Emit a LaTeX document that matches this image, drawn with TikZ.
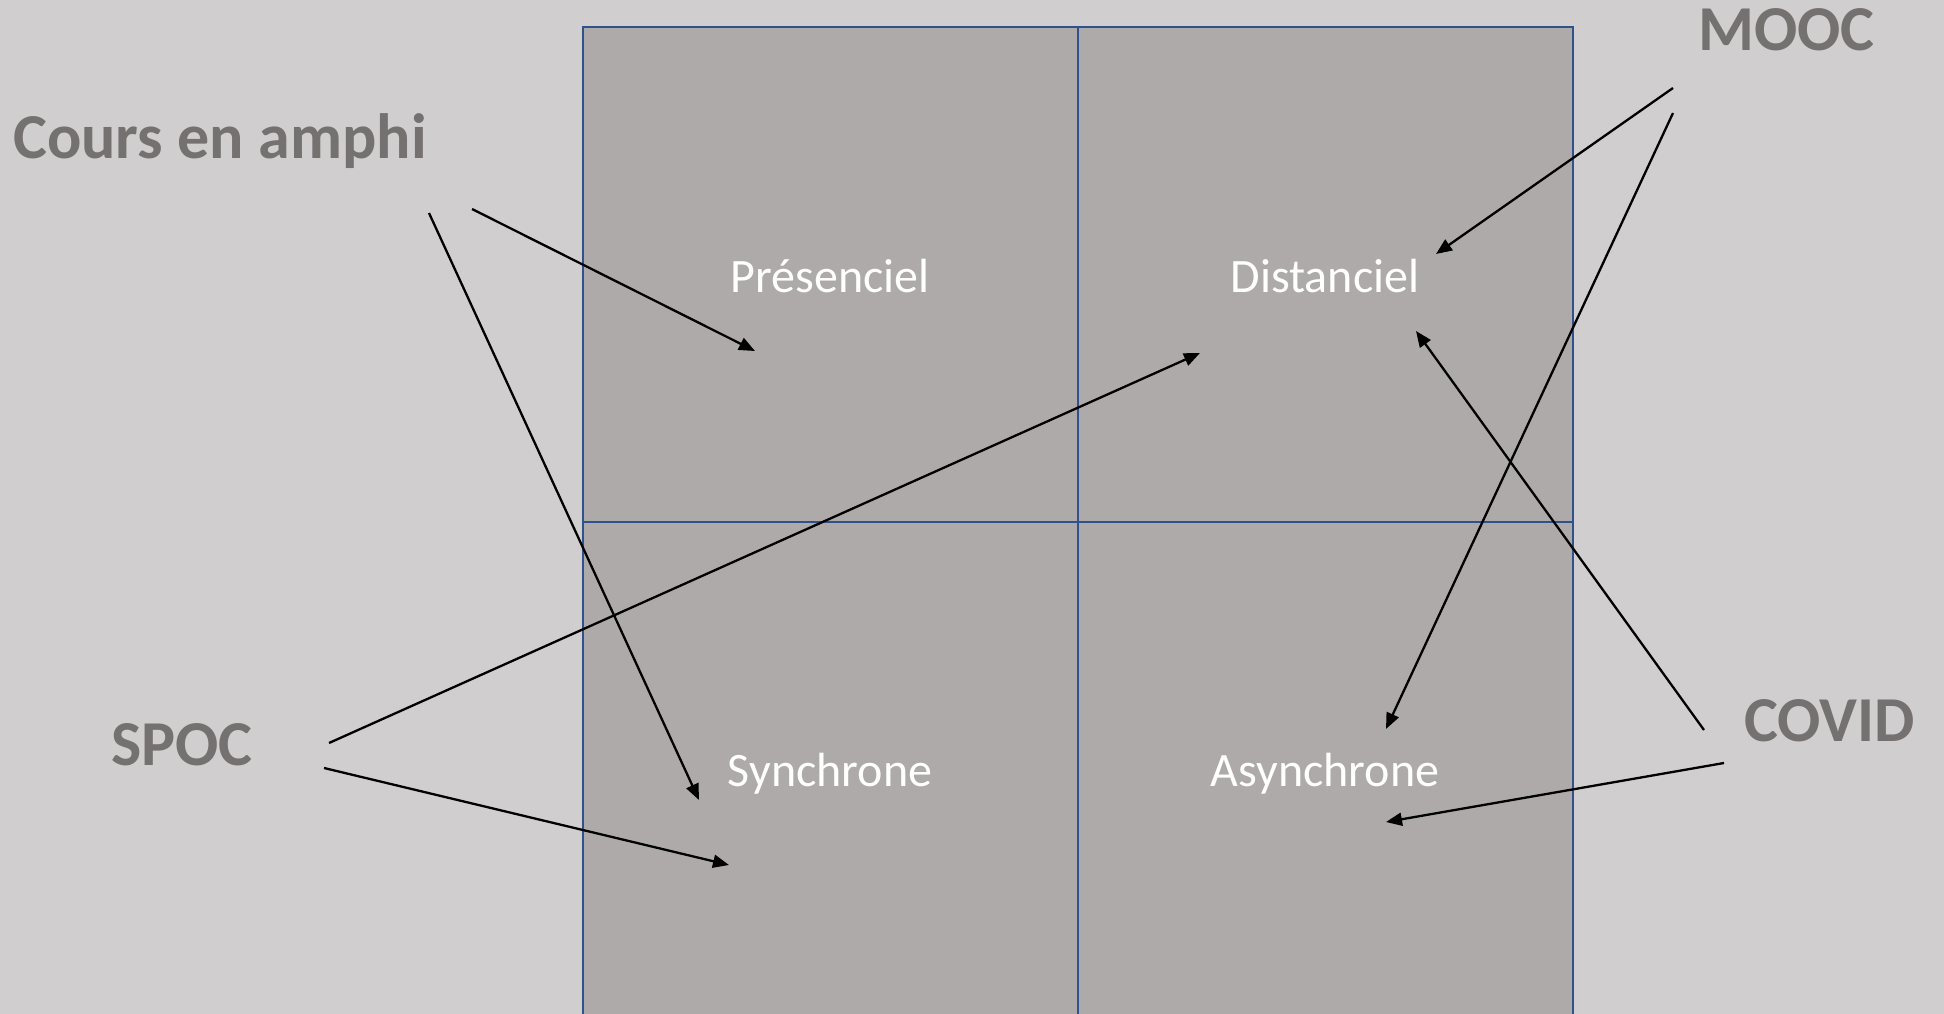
\documentclass[tikz,border=0pt]{standalone}
\usepackage{fontspec}
\setmainfont{Carlito}
\usetikzlibrary{arrows.meta}
\definecolor{bgpage}{HTML}{D0CECE}
\definecolor{cellfill}{HTML}{AEAAAA}
\definecolor{gridblue}{HTML}{2F528F}
\definecolor{labelgray}{HTML}{767171}
\tikzset{
  biglabel/.style={font=\fontsize{64}{64}\selectfont\bfseries, text=labelgray, inner sep=0pt},
  celllabel/.style={font=\fontsize{48}{48}\selectfont, text=white, inner sep=0pt},
  gridline/.style={draw=gridblue, line width=2pt},
  pointer/.style={draw=black, line width=2.3pt, -{Triangle[length=16pt,width=13pt]}},
}
\begin{document}
\begin{tikzpicture}[x=1pt,y=-1pt]
  % page background and fixed bounds
  \fill[bgpage] (0,0) rectangle (1944,1014);
  \useasboundingbox (0,0) rectangle (1944,1014);

  % the 2x2 grid of modes
  \begin{scope}
    \clip (0,0) rectangle (1944,1014);
    \fill[cellfill] (583,27) rectangle (1573,1030);
    \draw[gridline] (583,1030) -- (583,27) -- (1573,27) -- (1573,1030);
    \draw[gridline] (1078,27) -- (1078,1030);
    \draw[gridline] (583,522) -- (1573,522);
  \end{scope}

  % cell labels
  \node[celllabel, anchor=base] (pres)  at (830,292)  {Présenciel};
  \node[celllabel, anchor=base] (dist)  at (1325,292) {Distanciel};
  \node[celllabel, anchor=base] (sync)  at (830,786)  {Synchrone};
  \node[celllabel, anchor=base] (async) at (1325,786) {Asynchrone};

  % outer labels
  \node[biglabel, anchor=base west] (amphi) at (13,158)  {Cours en amphi};
  \node[biglabel, anchor=base west] (mooc)  at (1698,51) {MOOC};
  \node[biglabel, anchor=base west] (spoc)  at (111,765) {SPOC};
  \node[biglabel, anchor=base west] (covid) at (1744,741) {COVID};

  % arrow start points near the outer labels
  \coordinate (amphiA) at (429,213);
  \coordinate (amphiB) at (472,209);
  \coordinate (moocA)  at (1673,88);
  \coordinate (moocB)  at (1673,113);
  \coordinate (spocA)  at (329,743);
  \coordinate (spocB)  at (324,768);
  \coordinate (covidA) at (1704,730);
  \coordinate (covidB) at (1724,763);

  % arrow tips inside the cells
  \coordinate (presT)   at (755,351);
  \coordinate (syncT1)  at (699,800);
  \coordinate (syncT2)  at (729,865);
  \coordinate (distT1)  at (1436,254);
  \coordinate (distT2)  at (1200,353);
  \coordinate (distT3)  at (1416,331);
  \coordinate (asyncT1) at (1386,729);
  \coordinate (asyncT2) at (1386,822);

  % connectors
  \draw[pointer] (amphiA) -- (syncT1);
  \draw[pointer] (amphiB) -- (presT);
  \draw[pointer] (moocA)  -- (distT1);
  \draw[pointer] (moocB)  -- (asyncT1);
  \draw[pointer] (spocA)  -- (distT2);
  \draw[pointer] (spocB)  -- (syncT2);
  \draw[pointer] (covidA) -- (distT3);
  \draw[pointer] (covidB) -- (asyncT2);
\end{tikzpicture}
\end{document}
